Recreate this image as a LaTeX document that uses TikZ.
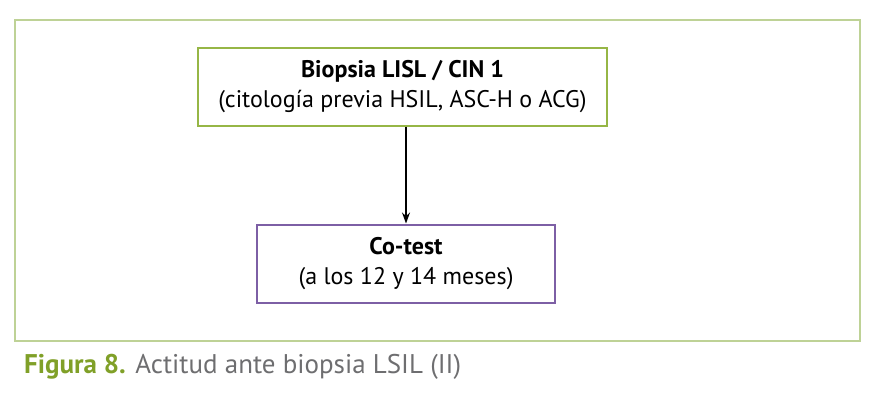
\documentclass[tikz,border=0pt]{standalone}
\usepackage{fontspec}
\setmainfont{PT Sans}
\definecolor{frame-green}{RGB}{190,210,150}
\definecolor{box-green}{RGB}{150,182,70}
\definecolor{box-purple}{RGB}{125,95,165}
\definecolor{caption-green}{RGB}{128,160,40}
\definecolor{caption-grey}{RGB}{110,110,112}
\usetikzlibrary{positioning}
\usetikzlibrary{arrows.meta}
\begin{document}
\begin{tikzpicture}[%
    x=1pt, y=-1pt,
    stepbox/.style={%
      draw,
      line width=2pt,
      align=center,
      inner sep=0pt,
      minimum height=78pt,
      font=\fontsize{24}{30}\selectfont,
    },
    link/.style={-{Stealth[length=11pt,width=8pt]}, line width=1.2pt},
  ]
  \useasboundingbox (0,0) rectangle (880,408);
  \draw [frame-green, line width=1.2pt] (15,20) rectangle (860,341);

  \node [stepbox, box-green, minimum width=409pt, text=black] (biopsy) at (402.5,86.5)
    {\textbf{Biopsia LISL / CIN 1}\\(citología previa HSIL, ASC-H o ACG)};
  \node [stepbox, box-purple, minimum width=298pt, text=black] (cotest) at (406,263.5)
    {\textbf{Co-test}\\(a los 12 y 14 meses)};

  \draw [link] (biopsy.south -| cotest.north) -- (cotest.north);

  \node [anchor=base west, inner sep=0pt, font=\fontsize{27}{30}\selectfont] (caption) at (24,373)
    {\textcolor{caption-green}{\textbf{Figura 8.}} \textcolor{caption-grey}{Actitud ante biopsia LSIL (II)}};
\end{tikzpicture}
\end{document}
